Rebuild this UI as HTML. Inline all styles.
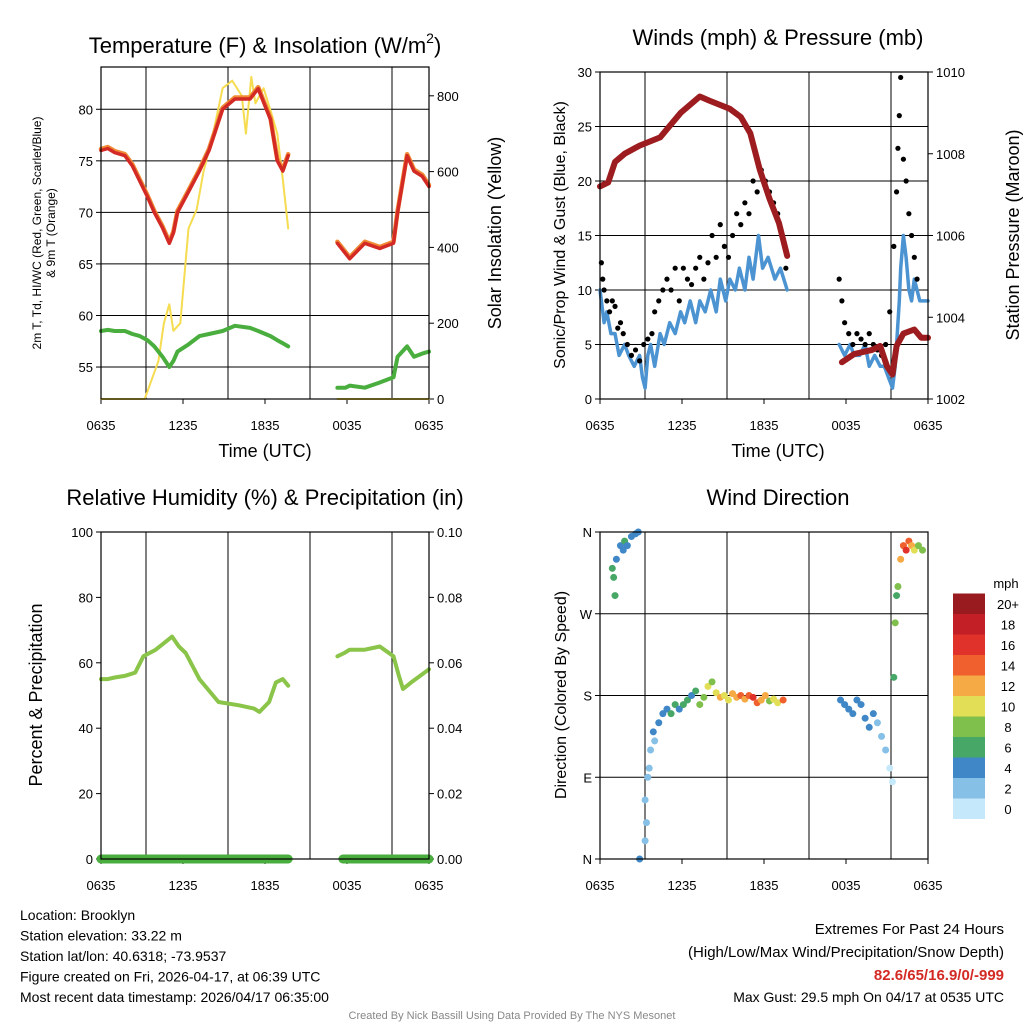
<!DOCTYPE html>
<html><head><meta charset="utf-8">
<style>
body{margin:0;background:#fff;width:1024px;height:1024px;overflow:hidden;font-family:"Liberation Sans",sans-serif}
svg text{font-family:"Liberation Sans",sans-serif}
</style></head>
<body>
<svg id="c" width="1024" height="1024" xmlns="http://www.w3.org/2000/svg"></svg>
<script>
// ---------- DATA ----------
const xTickLabels=["0635","1235","1835","0035","0635"];
const tempT=[0,0.5,1,1.75,2.3,2.85,3.4,3.9,4.5,5.0,5.3,5.6,6.4,7.2,7.9,8.9,9.8,10.9,11.5,12.4,12.9,13.3,13.7,null,17.3,17.9,18.2,19.3,20.4,21.4,21.7,22.4,22.9,23.5,24];
const tempV=[76,76.2,75.8,75.5,74.5,73,71.5,70,68.5,67,68,70,72,74,76,80,81,81,82,79,75,74,75.5,null,67,66,65.5,67,66.5,67,70,75.5,74,73.5,72.5];
const dewV=[58.5,58.6,58.5,58.5,58.2,58,57.6,57,56,55,55.6,56.5,57.2,58,58.2,58.5,59,58.8,58.5,58,57.6,57.3,57,null,53,53,53.2,53,53.5,54,56,57,56,56.3,56.5];
const solarT=[0,1,2,3.2,3.8,4.2,4.6,5.0,5.3,5.8,6.4,7.0,7.5,8.2,8.9,9.6,10.3,10.6,11.0,11.3,11.9,12.5,12.9,13.3,13.7,null,17.3,24];
const solarV=[0,0,0,0,60,100,200,250,180,200,450,500,600,700,820,840,800,700,850,780,820,750,700,580,450,null,0,0];
const windT=[0,0.3,0.5,0.8,1.1,1.4,1.8,2.1,2.5,2.9,3.1,3.3,3.5,3.7,4.0,4.4,4.7,5.1,5.5,5.9,6.2,6.6,7.0,7.3,7.7,8.1,8.5,8.8,9.2,9.5,9.9,10.2,10.6,10.9,11.2,11.6,11.9,12.3,12.8,13.2,13.7,null,17.5,17.9,18.3,18.6,19.0,19.4,19.7,20.1,20.5,20.8,21.1,21.4,21.6,21.7,21.9,22.0,22.2,22.4,22.6,22.8,23,23.4,24];
const windV=[10,7,8,6,6,4,5,4,3,4,2,1,4,5,3,6,5,7,6,8,7,9,7,9,8,10,8,11,9,11,10,12,10,13,11,15,12,13,11,12,10,null,5,4,5,4,4,5,3,4,3,3,2,1,3,5,9,12,15,13,10,9,11,9,9];
const pressT=[0,0.6,1.1,1.8,2.9,4.4,5.9,7.3,8.0,9.5,10.3,11.0,11.7,12.4,13.1,13.7,null,17.7,18.6,19.9,20.5,21.0,21.4,21.7,22.2,23,23.5,24];
const pressV=[1007.2,1007.3,1007.8,1008,1008.2,1008.4,1009,1009.4,1009.3,1009.1,1008.9,1008.5,1007.6,1006.9,1006.3,1005.5,null,1002.9,1003.1,1003.2,1003.3,1002.8,1002.6,1003.3,1003.6,1003.7,1003.5,1003.5];
const gustT=[0.1,0.2,0.3,0.5,0.7,0.9,1.1,1.3,1.5,1.7,2.0,2.3,2.6,2.9,3.2,3.5,3.8,4.0,4.3,4.6,4.9,5.2,5.5,5.8,6.1,6.4,6.7,7.0,7.3,7.6,7.9,8.2,8.5,8.8,9.1,9.4,9.7,10.0,10.3,10.6,10.9,11.2,11.5,11.8,12.1,12.4,12.7,13.0,13.3,13.6,17.5,17.7,17.9,18.2,18.5,18.8,19.1,19.4,19.7,20.0,20.3,20.6,20.9,21.2,21.5,21.7,21.8,21.9,22.0,22.2,22.4,22.6,22.8,23.0,23.2];
const gustV=[12.5,11,10,9,8,9,8.5,6.5,7,6,5,4,4.5,3.5,5,5.5,6,8,9,10,11,10,12,9,12,11,10.5,12,13,11,12.5,15,13,16,14,13,15,17,16,18,17,20,19,21,20,19,18,17,15,12,11,9,7,6,5,6,5.5,5,6,5,4.5,4,5,8,14,19,23,26,29.5,22,20,17,15,13,11];
const rhT=[0,0.5,1.0,1.75,2.5,3.1,4.0,4.6,5.2,5.7,6.2,7.2,8.6,10.1,11.2,11.6,12.3,12.8,13.3,13.7,null,17.3,17.8,18.2,19.3,20.4,21.4,21.8,22.1,22.7,24];
const rhV=[55,55,55.5,56,57,62,64,66,68,65,63,55,48,47,46,45,48,54,55,53,null,62,63,64,64,65,62,56,52,54,58];
const precipT=[0,13.7,null,17.7,24];
const precipV=[0,0,null,0,0];
const dirT=[0.9,1.0,1.1,1.2,1.5,1.7,1.8,2.0,2.3,2.6,2.8,2.9,3.3,3.4,3.3,3.5,3.6,3.7,3.9,4.0,4.3,4.6,4.9,5.2,5.5,5.8,6.1,6.4,6.7,7.0,7.3,7.6,7.9,8.2,8.5,8.8,9.1,9.4,9.7,10.0,10.3,10.6,10.9,11.2,11.5,11.8,12.1,12.4,12.7,13.0,13.4,17.6,17.9,18.2,18.5,18.8,19.1,19.4,19.7,20.0,20.3,20.6,20.9,21.2,21.4,21.5,21.6,21.7,21.8,22.0,22.2,22.4,22.6,22.8,23.0,23.3,23.6];
const dirV=[320,310,290,330,345,340,350,345,355,358,360,0,20,40,65,90,100,120,140,130,150,160,165,160,170,165,170,175,180,185,170,178,190,195,183,178,180,175,182,178,180,176,180,178,172,175,180,174,176,172,175,175,170,165,160,175,170,155,145,160,150,135,120,100,85,200,260,290,300,330,345,340,350,345,340,345,340];
const dirS=[6,6,6,5,4,5,6,4,4,4,4,4,3,3,2,2,3,3,4,3,4,5,4,6,6,5,7,6,5,7,8,9,10,8,10,12,11,10,13,12,14,12,14,16,15,13,12,8,10,11,14,4,5,4,4,4,4,4,4,4,3,3,2,1,1,6,8,6,8,12,14,16,14,12,10,8,8];
const cbLabels=["0","2","4","6","8","10","12","14","16","18","20+"];
const cbColors=["#c5e8fa","#86c0e6","#3f87c6","#47a766","#7fbf4b","#e2df57","#f6aa45","#ef602e","#e0312a","#c21f27","#9a1b1f"];

// ---------- HELPERS ----------
const S=document.getElementById('c');const NS="http://www.w3.org/2000/svg";
function mk(tag,at,parent){const e=document.createElementNS(NS,tag);for(const k in at)e.setAttribute(k,at[k]);(parent||S).appendChild(e);return e;}
function txt(x,y,s,size,anchor,name,extra){const e=mk('text',Object.assign({x:x,y:y,'font-size':size,'text-anchor':anchor||'middle',fill:'#000'},extra||{}));e.textContent=s;


return e;}
function col(s){return cbColors[Math.max(0,Math.min(10,Math.floor(s/2)))];}
function axes(P){
  const g=mk('g',{});
  
  
  const xs=t=>P.x0+(t/24)*(P.x1-P.x0);
  const ys=v=>P.y1-(v-P.lmin)/(P.lmax-P.lmin)*(P.y1-P.y0);
  const yr=v=>P.y1-(v-P.rmin)/(P.rmax-P.rmin)*(P.y1-P.y0);
  [45,127,209,291].forEach(f=>{const l=mk('line',{x1:P.x0+f,x2:P.x0+f,y1:P.y0,y2:P.y1,stroke:'#000','stroke-width':1},g);
    
    });
  P.lticks.forEach((v,i)=>{const y=ys(v);
    if(P.hgrid){const l=mk('line',{x1:P.x0,x2:P.x1,y1:y,y2:y,stroke:'#000','stroke-width':1},g);
      
      }
    mk('line',{x1:P.x0-5,x2:P.x0,y1:y,y2:y,stroke:'#000'},g);
    txt(P.x0-8,y+5,P.llabels?P.llabels[i]:String(v),13,'end','left-tick-label');});
  if(P.rticks)P.rticks.forEach((v,i)=>{const y=yr(v);
    mk('line',{x1:P.x1,x2:P.x1+5,y1:y,y2:y,stroke:'#000'},g);
    txt(P.x1+8,y+5,P.rlabels[i],13,'start','right-tick-label');});
  xTickLabels.forEach((s,i)=>{const x=xs(i*6);mk('line',{x1:x,x2:x,y1:P.y1,y2:P.y1+5,stroke:'#000'},g);
    txt(x,P.y1+31,s,13,'middle','x-tick-label');});
  return {g,xs,ys,yr};
}
function frame(P,g){const r=mk('rect',{x:P.x0,y:P.y0,width:P.x1-P.x0,height:P.y1-P.y0,fill:'none',stroke:'#000','stroke-width':1.2},g);
  
  }
function line(g,T,V,xs,ys,color,w,name,dy){let d='';let pen=false;
  for(let i=0;i<T.length;i++){if(T[i]===null||V[i]===null){pen=false;continue;}
    d+=(pen?'L':'M')+xs(T[i]).toFixed(1)+','+(ys(V[i])+(dy||0)).toFixed(1);pen=true;}
  const p=mk('path',{d:d,fill:'none',stroke:color,'stroke-width':w,'stroke-linejoin':'round','stroke-linecap':'round'},g);
  
  return p;}

// ---------- PANEL 1 ----------
{const P={name:'temperature-panel',x0:101,x1:429,y0:67,y1:399,lmin:51.9,lmax:84.1,rmin:0,rmax:876,lticks:[55,60,65,70,75,80],rticks:[0,200,400,600,800],rlabels:["0","200","400","600","800"],hgrid:true};
 const A=axes(P);
 line(A.g,solarT,solarV,A.xs,A.yr,'#f5dc50',2,'solar-insolation-line');
 line(A.g,tempT,tempV,A.xs,A.ys,'#f08a34',4.5,'9m-temperature-line',-1.5);
 line(A.g,tempT,tempV,A.xs,A.ys,'#d42a25',3.5,'2m-temperature-line');
 line(A.g,tempT,dewV,A.xs,A.ys,'#4aae3f',4,'dewpoint-line');
 frame(P,A.g);
 const tt=txt(265,53,'',22,'middle','temperature-panel-title');
 tt.innerHTML='Temperature (F) &amp; Insolation (W/m<tspan font-size="14" dy="-10">2</tspan><tspan dy="10">)</tspan>';
 txt(265,457,'Time (UTC)',18,'middle','x-axis-title');
 txt(0,0,'2m T, Td, HI/WC (Red, Green, Scarlet/Blue)',12,'middle','left-axis-title',{transform:'translate(41,233) rotate(-90)'});
 txt(0,0,'& 9m T (Orange)',12,'middle','left-axis-title-line2',{transform:'translate(55,233) rotate(-90)'});
 txt(0,0,'Solar Insolation (Yellow)',18,'middle','right-axis-title',{transform:'translate(501,233) rotate(-90)'});
}
// ---------- PANEL 2 ----------
{const P={name:'winds-panel',x0:600,x1:928,y0:72,y1:399,lmin:0,lmax:30,rmin:1002,rmax:1010,lticks:[0,5,10,15,20,25,30],rticks:[1002,1004,1006,1008,1010],rlabels:["1002","1004","1006","1008","1010"],hgrid:true};
 const A=axes(P);
 line(A.g,windT,windV,A.xs,A.ys,'#4c93d2',3.5,'sonic-wind-line');
 gustT.forEach((t,i)=>{const c=mk('circle',{cx:A.xs(t),cy:A.ys(gustV[i]),r:2.6,fill:'#000'},A.g);
   
   });
 line(A.g,pressT,pressV,A.xs,A.yr,'#9c1c1f',6,'pressure-line');
 frame(P,A.g);
 txt(778,45,'Winds (mph) & Pressure (mb)',22,'middle','winds-panel-title');
 txt(778,457,'Time (UTC)',18,'middle','x-axis-title');
 txt(0,0,'Sonic/Prop Wind & Gust (Blue, Black)',16,'middle','left-axis-title',{transform:'translate(565,235) rotate(-90)'});
 txt(0,0,'Station Pressure (Maroon)',18,'middle','right-axis-title',{transform:'translate(1019,235) rotate(-90)'});
}
// ---------- PANEL 3 ----------
{const P={name:'humidity-panel',x0:101,x1:429,y0:532,y1:859,lmin:0,lmax:100,rmin:0,rmax:0.1,lticks:[0,20,40,60,80,100],rticks:[0,0.02,0.04,0.06,0.08,0.1],rlabels:["0.00","0.02","0.04","0.06","0.08","0.10"],hgrid:false};
 const A=axes(P);
 line(A.g,rhT,rhV,A.xs,A.ys,'#8ac449',4,'relative-humidity-line');
 line(A.g,precipT,precipV,A.xs,A.yr,'#4aae3f',9,'precipitation-line');
 frame(P,A.g);
 txt(265,505,'Relative Humidity (%) & Precipitation (in)',22,'middle','humidity-panel-title');
 txt(0,0,'Percent & Precipitation',18,'middle','left-axis-title',{transform:'translate(42,695) rotate(-90)'});
}
// ---------- PANEL 4 ----------
{const P={name:'wind-direction-panel',x0:600,x1:928,y0:532,y1:859,lmin:0,lmax:360,lticks:[0,90,180,270,360],llabels:["N","E","S","W","N"],hgrid:true};
 const A=axes(P);
 dirT.forEach((t,i)=>{const c=mk('circle',{cx:A.xs(t),cy:A.ys(dirV[i]),r:3.5,fill:col(dirS[i])},A.g);
   
   });
 frame(P,A.g);
 txt(778,505,'Wind Direction',22,'middle','wind-direction-title');
 txt(0,0,'Direction (Colored By Speed)',16,'middle','left-axis-title',{transform:'translate(566,695) rotate(-90)'});
 const h=20.5;
 cbColors.forEach((c,i)=>{const y=819-(i+1)*h;
   const r=mk('rect',{x:953,y:y,width:32,height:h,fill:c},A.g);
   
   
   txt(1008,y+h/2+5,cbLabels[i],13,'middle','colorbar-label');});
 txt(1006,588,'mph',13,'middle','colorbar-title');
}
// ---------- FOOTER ----------
const info=["Location: Brooklyn","Station elevation: 33.22 m","Station lat/lon: 40.6318; -73.9537","Figure created on Fri, 2026-04-17, at 06:39 UTC","Most recent data timestamp: 2026/04/17 06:35:00"];
info.forEach((s,i)=>txt(20,920+i*20.5,s,14,'start','station-info-line'));
txt(1004,934,'Extremes For Past 24 Hours',15,'end','extremes-title');
txt(1004,957,'(High/Low/Max Wind/Precipitation/Snow Depth)',15,'end','extremes-subtitle');
txt(1004,980,'82.6/65/16.9/0/-999',15,'end','extremes-values',{fill:'#d42a25','font-weight':'bold'});
txt(1004,1002,'Max Gust: 29.5 mph On 04/17 at 0535 UTC',14,'end','max-gust');
txt(512,1019,'Created By Nick Bassill Using Data Provided By The NYS Mesonet',11,'middle','credit-line',{fill:'#888'});
</script>
</body></html>
